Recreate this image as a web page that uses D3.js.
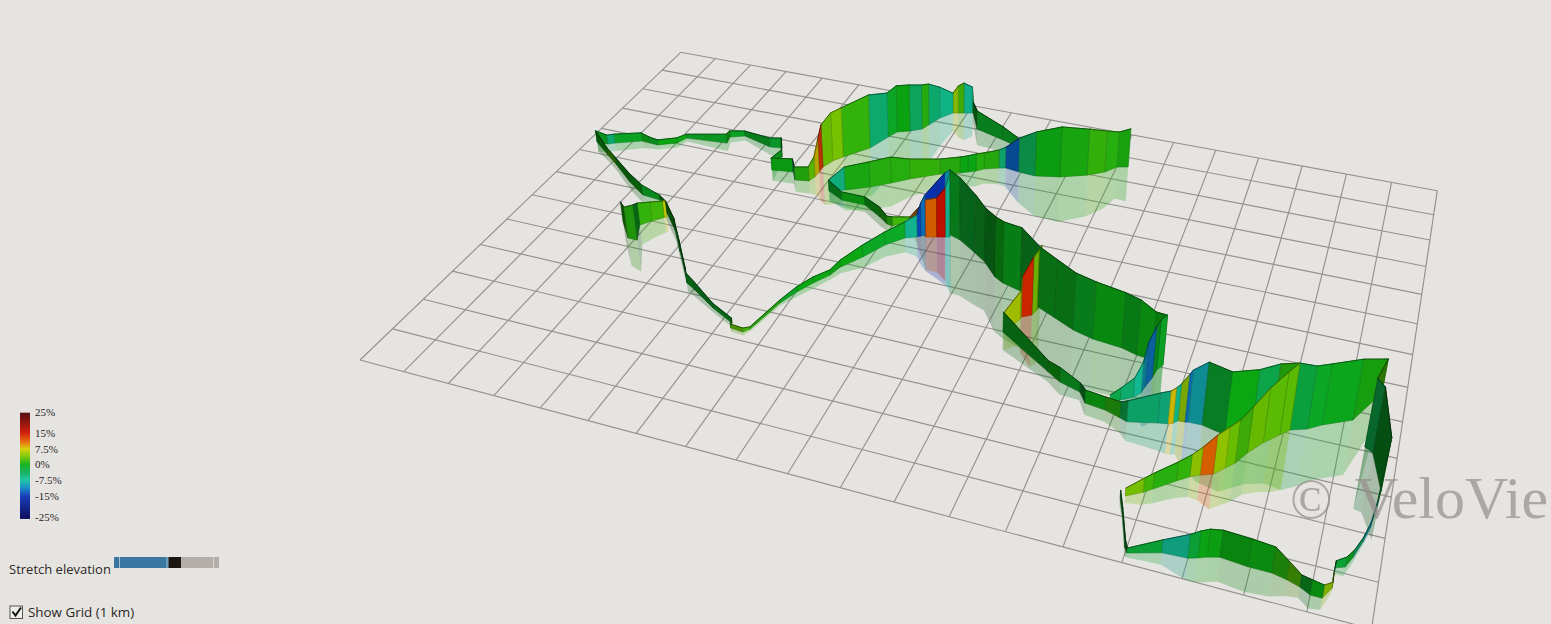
<!DOCTYPE html><html><head><meta charset="utf-8"><script src="https://cdn.jsdelivr.net/npm/d3@7"></script>
<style>html,body{margin:0;padding:0;background:#e6e4e1;overflow:hidden}svg{display:block}</style></head><body><svg id="c" width="1551" height="624"></svg>
<script>
// Route legs: [km east, km north, elevation m, grade % of the stretch to the next row]
const legStub=[[2.44,5.76,69,1],[2.84,5.27,105,1],[3.06,5.27,119,-1],[2.84,5.78,75,1.5],[3.01,6.00,65,2],[3.20,6.21,57,7],[3.25,6.25,55,0]];
const legLoop=[[0.22,8.43,40,0],[0.75,8.02,25,2],[1.16,7.71,25,0],[1.80,7.19,32,0],[2.33,6.83,35,-1],[2.79,6.78,17,0],[3.18,6.38,41,0],[3.65,5.87,41,-1],[4.13,5.20,41,-1],[4.66,4.46,33,0],[4.77,4.29,33,-1],[5.04,4.13,27,-1],[5.65,3.73,16,-1],[6.22,3.43,16,1],[6.27,3.28,13,3],[6.55,3.25,13,2],[6.64,3.38,7,1],[6.85,4.33,10,-1],[7.02,4.78,17,0],[7.21,5.16,20,0],[7.43,5.53,17,0],[7.52,5.85,23,0],[7.83,6.34,40,-1],[8.11,6.89,44,-1],[8.42,7.28,54,-7],[8.65,7.40,75,-14],[8.72,7.46,112,-12],[8.79,7.52,136,-15],[9.00,7.68,174,-15],[9.15,7.77,201,-10],[9.26,7.81,212,0]];
const legDescent=[[9.29,7.71,221,-1],[9.55,7.61,211,-1.5],[10.01,7.27,196,-1],[10.30,7.04,181,-1],[10.66,6.62,200,0],[10.88,6.48,203,-0.5],[11.29,6.35,209,-1],[11.78,5.97,197,-0.5],[12.20,5.75,190,-0.5],[12.64,5.51,185,-1],[13.08,5.37,185,0],[13.68,5.30,178,-0.5],[14.00,5.19,177,0],[14.31,5.15,154,0],[14.54,5.07,160,-1],[14.46,4.89,160,-1],[14.43,4.64,163,-12],[14.36,4.34,140,-10],[14.33,4.15,98,-7],[14.22,3.99,60,-5],[14.01,3.83,38,-3],[13.85,3.69,25,0]];
const legRed=[[11.38,4.99,65,6],[11.56,5.48,92,6],[11.56,5.55,131,14],[11.74,5.68,190,4],[11.79,5.87,197,4],[11.80,6.04,197,0]];
const legValley=[[11.36,4.98,65,-0.5],[12.53,4.14,35,0],[12.82,3.94,45,-1],[13.25,3.79,29,-1.5],[13.42,3.53,41,0],[13.82,3.47,41,1],[14.13,3.36,50,-3],[14.27,3.30,66,-5],[14.81,3.46,94,-6],[14.99,3.50,103,8],[15.07,3.55,110,-6],[15.14,3.64,116,5],[15.27,3.65,150,-12],[15.32,3.67,163,-9],[15.58,3.68,197,-1.5],[16.02,3.56,197,0],[16.45,3.86,188,-3],[16.78,4.06,197,1],[17.10,4.09,209,-2.5],[17.39,4.22,197,-1],[17.63,4.42,191,-0.5],[18.14,4.74,191,0.5],[18.56,5.67,108,2],[18.43,4.10,214,-3],[18.58,3.99,205,-1],[18.82,3.08,165,-1],[18.79,2.68,21,-8],[18.74,2.15,18,-9],[18.66,1.79,15,-5],[18.55,1.40,21,-1],[18.45,1.14,30,-2],[18.30,1.07,21,-3],[18.30,0.80,21,5],[18.31,0.62,18,5],[18.19,0.36,39,0],[18.00,0.36,45,-1],[17.82,0.47,36,2.5],[17.60,0.55,54,1],[17.35,0.61,78,0],[16.96,0.61,84,0],[16.49,0.66,81,0],[16.29,0.59,84,0],[16.15,0.52,81,-2],[16.00,0.46,72,-7],[15.57,0.43,39,-2],[15.03,0.23,15,-1],[14.97,0.33,24,-1],[14.74,1.07,18,-1],[14.62,1.40,24,-1]];
const legNear=[[14.69,1.48,24,4],[14.96,1.67,43,2],[15.10,1.80,49,1],[15.44,2.13,58,1.5],[15.64,2.31,68,5],[15.80,2.41,86,11],[16.01,2.51,120,5],[16.18,2.73,127,3.5],[16.32,2.91,133,2],[16.48,3.24,143,3.5],[16.70,3.59,171,3],[16.95,3.90,197,3],[17.10,4.09,209,0]];
const legNorth=[[0.22,8.43,40,-1],[0.51,8.44,32,-5],[0.64,8.53,32,-1],[1.19,8.83,29,0],[1.41,8.81,22,-1],[1.63,8.80,18,0],[2.01,9.03,18,0],[2.13,9.30,14,-1],[3.12,9.42,32,0],[3.07,9.69,22,-1],[3.38,9.85,18,-1],[4.15,9.61,32,-1.5],[4.43,9.66,36,-1],[4.59,9.31,25,-0.5],[4.61,8.73,42,0],[5.10,8.82,46,-5],[5.28,8.53,46,1],[5.59,8.60,49,3],[5.65,8.80,70,8],[5.66,9.02,113,13],[5.66,9.24,149,3.5],[5.77,9.55,171,4],[5.93,9.79,175,1.5],[6.37,10.36,190,-5],[6.59,10.95,159,-1],[6.71,11.24,167,0],[6.98,11.38,167,-4],[7.22,11.56,160,1],[7.31,11.79,149,-5],[7.45,12.18,113,-6],[7.67,12.51,73,5],[7.79,12.55,99,2],[7.92,12.60,110,-7],[8.11,12.67,95,-3],[8.13,12.68,40,-1],[8.46,12.01,65,-1],[9.19,11.75,47,-1],[9.62,11.57,32,0]];
const legReturn=[[12.25,11.61,135,0.5],[12.01,11.52,124,1],[11.80,11.22,145,1.5],[11.45,10.96,162,0.5],[10.89,10.68,176,0],[10.35,10.53,155,-3.5],[9.95,10.56,120,-13],[9.62,10.62,74,-5],[9.47,10.56,64,1],[9.16,10.41,57,1],[9.02,10.27,60,0],[8.86,10.17,57,0],[8.70,10.07,56,1],[8.29,9.87,53,1.5],[7.71,9.45,70,1],[7.37,9.15,91,1],[6.98,8.84,88,0.5],[6.50,8.54,80,-6],[6.18,8.38,38,-1],[6.59,8.15,28,0],[7.15,8.14,28,0],[7.63,7.82,34,0.5],[7.87,7.63,27,1],[8.00,7.60,31,2],[8.30,7.90,14,10],[8.83,7.46,126,11],[9.05,7.54,133,15],[9.22,7.60,167,-7],[9.32,7.64,221,0]];
const legs=[legStub,legLoop,legDescent,legRed,legValley,legNear,legNorth,legReturn];

const gridEastKm=d3.range(0,20), gridNorthKm=d3.range(0,14);
const gradeStops=[25,15,10.5,7.5,3.75,0,-4,-7.5,-11,-15,-25];
const gradeColors=["#4a0000","#d21200","#ea7000","#d6d200","#74c800","#0cb014","#0cae60","#14c4a4","#0c8cc4","#0a34b8","#000058"];
const legendTicks=[25,15,7.5,0,-7.5,-15,-25];
const legendLabels=["25%","15%","7.5%","0%","-7.5%","-15%","-25%"];
const legendTickPos=[412.7,433,449,464.5,480,496,517.7];

const svg=d3.select("#c");
svg.append("rect").attr("width",1551).attr("height",624).attr("fill","#e6e4e1");

// camera
const A=[680.7,52.3],B=[1437.3,190.7],C=[1371.5,629],D=[360,360],nadir=[950,2660];
const dx1=B[0]-C[0],dx2=D[0]-C[0],sx=A[0]-B[0]+C[0]-D[0],dy1=B[1]-C[1],dy2=D[1]-C[1],sy=A[1]-B[1]+C[1]-D[1],dt=dx1*dy2-dx2*dy1;
const hg=(sx*dy2-dx2*sy)/dt,hh=(dx1*sy-sx*dy1)/dt;
const ha=B[0]-A[0]+hg*B[0],hb=D[0]-A[0]+hh*D[0],hd=B[1]-A[1]+hg*B[1],he=D[1]-A[1]+hh*D[1];
const eastS=d3.scaleLinear().domain([0,19]).range([0,1]), northS=d3.scaleLinear().domain([13,0]).range([0,1]);
function project(e,n,z){
  const s=eastS(e),t=northS(n),w=hg*s+hh*t+1;
  const gx=(ha*s+hb*t+A[0])/w, gy=(hd*s+he*t+A[1])/w, k=(z||0)/10000/w;
  return [gx+(gx-nadir[0])*k, gy+(gy-nadir[1])*k];
}
const gradeColor=d3.scaleLinear().domain(gradeStops).range(gradeColors).interpolate(d3.interpolateRgb).clamp(true);
const line=d3.line();

// grid
const gridG=svg.append("g").attr("fill","none").attr("stroke","#949290").attr("stroke-width",1.15);
gridEastKm.forEach(e=>gridG.append("path").attr("d",line([project(e,0),project(e,13)])));
gridNorthKm.forEach(n=>gridG.append("path").attr("d",line([project(0,n),project(19,n)])));

// wall segments, painted back to front; a wall's brightness follows its facing
const segs=[];
const keyLight=-20*Math.PI/180;
legs.forEach(L=>d3.pairs(L).forEach(([a,b])=>{
  const ga=project(a[0],a[1]),gb=project(b[0],b[1]);
  const theta=Math.atan2(gb[1]-ga[1],gb[0]-ga[0]);
  const c=Math.cos(theta-keyLight);
  const f=0.44+0.52*c*c;
  const base=d3.rgb(gradeColor(a[3]));
  const col=d3.rgb(base.r*f,base.g*f,base.b*f);
  segs.push({a,b,depth:(ga[1]+gb[1])/2,col,base});
}));
segs.sort((p,q)=>d3.ascending(p.depth,q.depth));

svg.append("g").selectAll("path").data(segs).join("path")
 .attr("d",d=>line([project(d.a[0],d.a[1]),project(d.b[0],d.b[1]),project(d.b[0],d.b[1],-d.b[2]*0.9),project(d.a[0],d.a[1],-d.a[2]*0.9)])+"Z")
 .attr("fill",d=>d.col.formatHex()).attr("fill-opacity",0.27);

const wallG=svg.append("g");
segs.forEach(d=>{
  const q=[project(d.a[0],d.a[1]),project(d.b[0],d.b[1]),project(d.b[0],d.b[1],d.b[2]),project(d.a[0],d.a[1],d.a[2])];
  wallG.append("path").attr("d",line(q)+"Z").attr("fill",d.col.formatHex()).attr("stroke",d.col.darker(0.7).formatHex()).attr("stroke-width",0.6).attr("stroke-linejoin","round");
  wallG.append("path").attr("d",line([q[3],q[2]])).attr("fill","none").attr("stroke",d.col.darker(1.6).formatHex()).attr("stroke-width",1).attr("stroke-linecap","round");
});

// watermark
const wm=svg.append("text").attr("y",518).attr("font-family","'Liberation Serif',serif").attr("fill","#958f8b").attr("fill-opacity",0.72);
wm.append("tspan").attr("x",1290).attr("font-size",56).text("©");
wm.append("tspan").attr("x",1355).attr("font-size",60).text("VeloVie");

// legend
const legendY=d3.scaleLinear().domain(legendTicks).range(legendTickPos);
svg.append("g").selectAll("rect").data(d3.range(412.7,517.7,1)).join("rect")
 .attr("x",20).attr("width",10).attr("y",d=>d).attr("height",1.2).attr("fill",d=>gradeColor(legendY.invert(d+0.5)));
svg.append("g").selectAll("text").data(legendTicks).join("text")
 .attr("x",35).attr("y",d=>legendY(d)+3.5).text((d,i)=>legendLabels[i])
 .attr("font-family","'Liberation Serif',serif").attr("font-size",11).attr("fill","#26221f");

// controls
const ui="'Open Sans','Noto Sans',sans-serif";
svg.append("text").attr("x",9).attr("y",573.5).text("Stretch elevation").attr("font-family",ui).attr("font-size",13).attr("fill","#2b2825");
const sl=svg.append("g");
[[114,54.5,"#3a76a0"],[168.5,12.5,"#1c1612"],[181,38,"#b3aeaa"]].forEach(r=>sl.append("rect").attr("x",r[0]).attr("y",557).attr("width",r[1]).attr("height",11).attr("fill",r[2]));
[[119,"#9fc0d4"],[166.5,"#9fc0d4"],[213,"#d8d5d2"]].forEach(r=>sl.append("rect").attr("x",r[0]).attr("y",557).attr("width",1).attr("height",11).attr("fill",r[1]));
svg.append("rect").attr("x",10).attr("y",606).attr("width",12.5).attr("height",12.5).attr("fill","#efeeec").attr("stroke","#55524f").attr("stroke-width",1);
svg.append("path").attr("d","M12.5 611.5 L15.5 615.5 L21 607.5").attr("fill","none").attr("stroke","#111").attr("stroke-width",2);
svg.append("text").attr("x",28).attr("y",616.5).text("Show Grid (1 km)").attr("font-family",ui).attr("font-size",13.4).attr("fill","#2b2825");
</script></body></html>
